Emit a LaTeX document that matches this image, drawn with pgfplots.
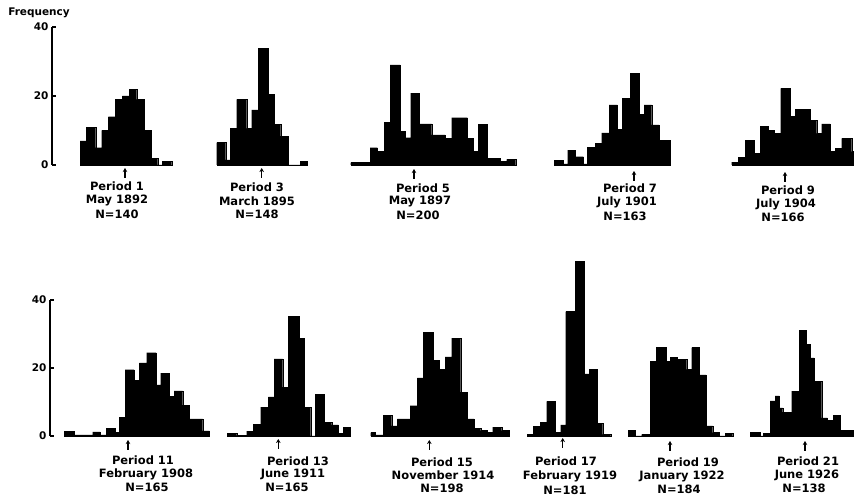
\documentclass[border=0pt]{standalone}
\usepackage{pgfplots}
\pgfplotsset{compat=1.18}
\usepackage{fontspec}
\setmainfont{DejaVu Sans}
\usetikzlibrary{arrows.meta}

\begin{document}
\begin{tikzpicture}[font=\bfseries\fontsize{11.5}{13}\selectfont]
\path[use as bounding box] (0,0) rectangle (854pt,498pt);
\pgfplotsset{
  hist/.style={const plot mark left, fill=black, draw=black, line width=0.3pt, mark=none},
  panel/.style={
    axis x line=none, axis y line=left,
    axis line style={-, line width=1.1pt},
    clip=false, ymin=0, ymax=40, ytick={0,20,40},
    tick align=inside, major tick length=4pt,
    tick style={line width=1.1pt, black},
    yticklabel style={font=\bfseries\fontsize{10.5}{12}\selectfont},
    /pgf/number format/assume math mode=true,
    x=1pt, xmax=854
  }
}
% ---------------- top row ----------------
\begin{axis}[panel, at={(52pt,333pt)}, anchor=south west, xmin=52, y=3.45pt]
% Period 1
\addplot[hist] coordinates {(80,7) (86,11) (95.7,5) (101.7,10) (108.3,14) (115,19) (122.3,20) (129,22) (136.7,19) (144,10) (151,2) (157.7,0) (162.3,1) (171.7,0)} \closedcycle;
% Period 3
\addplot[hist] coordinates {(216.7,6.5) (225.7,1.5) (230,10.6) (236.7,19) (246.7,10.6) (251.7,16) (258.3,33.8) (268.3,20.5) (274.3,11.8) (280.7,8.4) (288.3,0) (300,1) (307.3,0)} \closedcycle;
% Period 5
\addplot[hist] coordinates {(350.7,0.7) (370,5) (377.3,3.9) (384,12.3) (390,29) (400,9.7) (405,7.9) (410.7,20.8) (419.3,11.9) (431.7,8.7) (445,7.7) (451.7,13.7) (467.3,7.7) (473.3,3.9) (478.3,11.8) (487.3,1.9) (500,1) (506.7,1.6) (515.7,0)} \closedcycle;
% Period 7
\addplot[hist] coordinates {(554,1.4) (563.3,0.3) (567.7,4.3) (575,2.4) (583.3,0.3) (587.3,5.1) (595,6.3) (601.7,9.3) (609,17.4) (617.3,10.4) (622.3,19.4) (630,26.6) (639,14.6) (644,17.4) (651.7,11.6) (659,7.2) (670,0)} \closedcycle;
% Period 9
\addplot[hist] coordinates {(731.7,0.8) (738.3,2.2) (745,7.2) (754.3,3.4) (760,11.3) (768.3,10.1) (774,9.2) (780.7,22.2) (790,14.2) (795,16.1) (810,13) (816.7,9.2) (821.7,11.9) (830,3.9) (835,4.8) (841.7,7.7) (851.7,3.9) (854,0)} \closedcycle;
\end{axis}
% ---------------- bottom row ----------------
\begin{axis}[panel, at={(50pt,62pt)}, anchor=south west, xmin=50, y=3.4pt]
% Period 11
\addplot[hist] coordinates {(64.3,1.4) (74,0.3) (92.7,1.2) (100,0.3) (106,2.2) (115,1) (119,5.4) (125,19.5) (134,16.3) (139.3,21.5) (146.7,24.5) (156,15) (160.7,18.5) (169.3,11.6) (174,13.3) (182.7,9.1) (189.3,5) (202.7,1.5) (209.3,0)} \closedcycle;
% Period 13
\addplot[hist] coordinates {(227.3,0.7) (236.7,0.2) (246.7,1.4) (253.3,3.4) (260.7,8.5) (268.3,11.5) (274,22.7) (282.7,14.4) (288.3,35.2) (299,28.8) (304.3,8.5) (310.7,0) (315,12.2) (324,4.1) (331.7,3.3) (338.3,0.7) (343.3,2.6) (350,0)} \closedcycle;
% Period 15
\addplot[hist] coordinates {(370.7,1) (375,0.3) (383.3,6) (391.7,3) (397.3,5) (410,8.9) (417.3,17.1) (423.3,30.5) (433.3,22.3) (439.3,19.6) (445,23.3) (451.7,28.8) (460.7,12.9) (467.3,5) (474,2.3) (480.7,1.6) (487.3,1) (492.7,2.6) (501.7,1.6) (509.3,0)} \closedcycle;
% Period 17
\addplot[hist] coordinates {(527.3,0.5) (533.3,2.8) (540,4) (546.7,10.2) (555,1) (560.7,3.3) (565.7,36.6) (575,51.3) (584,18.3) (589,19.6) (597.3,3.8) (602.7,0.5) (610.7,0)} \closedcycle;
% Period 19
\addplot[hist] coordinates {(628.3,1.7) (635,0) (641.7,0.5) (650,22) (656,26) (666,22) (670,23.2) (677.3,22.5) (686.7,19.6) (691.7,26) (699.3,18) (706,3) (712.7,1) (719.3,0) (725,0.7) (732.7,0)} \closedcycle;
% Period 21
\addplot[hist] coordinates {(750,1) (760,0) (763.3,0.7) (770,10.3) (775,11.8) (779.3,8.3) (782.7,7) (791.7,13.2) (799.3,31) (806,27) (810,23) (814,16) (821.7,5.3) (827.3,4.6) (833.3,6) (840,1.6) (853.3,0)} \closedcycle;
\end{axis}
% ---------------- annotations (pixel coordinates) ----------------
\begin{scope}[x=1pt, y=-1pt, shift={(0pt,498pt)}]
\node[font=\bfseries\fontsize{10.5}{12}\selectfont] at (39,12.7) {Frequency};
\foreach \ax/\ay in {125/168, 261.7/168, 414/169, 634/171, 785/172,
                     128/440, 278.3/439, 429.3/440, 562.7/438, 670/441, 805/441}
  \draw[line width=1.2pt, -{Stealth[length=4pt,width=4.5pt]}] (\ax,\ay+10) -- (\ax,\ay);
% top row labels
\node at (117,186) {Period 1};   \node at (117,200) {May 1892};      \node at (117,214) {N=140};
\node at (257,187) {Period 3};   \node at (257,201) {March 1895};    \node at (257,214) {N=148};
\node at (423,188) {Period 5};   \node at (420,201) {May 1897};      \node at (418,215) {N=200};
\node at (630,188) {Period 7};   \node at (627,202) {July 1901};     \node at (625,216) {N=163};
\node at (788,190) {Period 9};   \node at (786,204) {July 1904};     \node at (783,217) {N=166};
% bottom row labels
\node at (143,460) {Period 11};  \node at (146,474) {February 1908}; \node at (147,487) {N=165};
\node at (298,461) {Period 13};  \node at (293,474) {June 1911};     \node at (287,487) {N=165};
\node at (442,462) {Period 15};  \node at (443,475) {November 1914}; \node at (442,488) {N=198};
\node at (566,461) {Period 17};  \node at (570,476) {February 1919}; \node at (565,490) {N=181};
\node at (688,462) {Period 19};  \node at (682,476) {January 1922};  \node at (679,489) {N=184};
\node at (808,461) {Period 21};  \node at (807,475) {June 1926};     \node at (804,488) {N=138};
\end{scope}
\end{tikzpicture}
\end{document}
